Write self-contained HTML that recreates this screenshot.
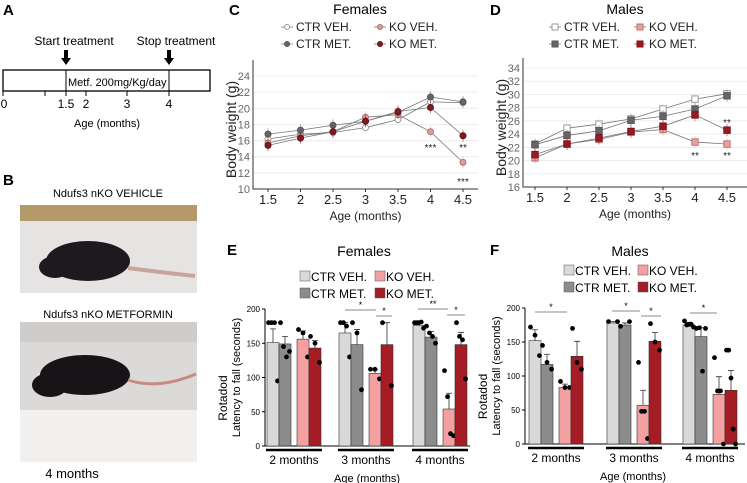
<!DOCTYPE html>
<html><head><meta charset="utf-8"><style>
body{margin:0;background:#fff}
svg{display:block;font-family:"Liberation Sans",Arial,sans-serif}
</style></head><body>
<svg id="fig" width="747" height="483" viewBox="0 0 747 483" xmlns="http://www.w3.org/2000/svg">
<g>
<text x="3" y="15" font-size="15" font-weight="bold">A</text>
<text x="74" y="45" font-size="12" text-anchor="middle">Start treatment</text>
<text x="176" y="45" font-size="12" text-anchor="middle">Stop treatment</text>
<path d="M64 50h4v8h3l-5 7l-5-7h3z" fill="#000"/>
<path d="M167 50h4v8h3l-5 7l-5-7h3z" fill="#000"/>
<rect x="3" y="70" width="207" height="21" fill="none" stroke="#000" stroke-width="1.3"/>
<line x1="66" y1="70" x2="66" y2="91" stroke="#000"/>
<line x1="169" y1="70" x2="169" y2="91" stroke="#000"/>
<text x="68" y="86" font-size="11">Metf. 200mg/Kg/day</text>
<g stroke="#000">
<line x1="3" y1="91" x2="3" y2="96"/><line x1="45" y1="91" x2="45" y2="96"/><line x1="66" y1="91" x2="66" y2="96"/><line x1="86" y1="91" x2="86" y2="96"/><line x1="127" y1="91" x2="127" y2="96"/><line x1="169" y1="91" x2="169" y2="96"/>
</g>
<g font-size="12" text-anchor="middle">
<text x="4" y="108">0</text><text x="66" y="108">1.5</text><text x="86" y="108">2</text><text x="127" y="108">3</text><text x="169" y="108">4</text>
</g>
<text x="107" y="127" font-size="11" text-anchor="middle">Age (months)</text>
</g>
<g>
<text x="3" y="185" font-size="15" font-weight="bold">B</text>
<text x="108" y="197" font-size="11" text-anchor="middle">Ndufs3 nKO VEHICLE</text>
<g>
<rect x="20" y="205" width="177" height="88" fill="#e6e4e2"/>
<rect x="20" y="205" width="177" height="16" fill="#b49a6a"/>
<ellipse cx="88" cy="261" rx="42" ry="20" fill="#1c1a1e"/>
<ellipse cx="55" cy="267" rx="16" ry="11" fill="#1c1a1e"/>
<path d="M128 268q30 4 67 8" stroke="#c9a39c" stroke-width="4" fill="none"/>
</g>
<text x="108" y="318" font-size="11" text-anchor="middle">Ndufs3 nKO METFORMIN</text>
<g>
<rect x="20" y="322" width="177" height="140" fill="#dcdad8"/>
<rect x="20" y="322" width="177" height="20" fill="#cfcdcb"/>
<ellipse cx="85" cy="375" rx="45" ry="20" fill="#161417"/>
<ellipse cx="50" cy="385" rx="18" ry="12" fill="#161417"/>
<path d="M128 380q30 10 68 -6" stroke="#c78b82" stroke-width="3" fill="none"/>
<rect x="20" y="410" width="177" height="52" fill="#f2f0ef"/>
</g>
<text x="72" y="478" font-size="13" text-anchor="middle">4 months</text>
</g>
<text x="229" y="15" font-size="15" font-weight="bold">C</text>
<text x="360" y="14" font-size="14" text-anchor="middle">Females</text>
<text x="490" y="15" font-size="15" font-weight="bold">D</text>
<text x="625" y="14" font-size="14" text-anchor="middle">Males</text>
<text x="227" y="255" font-size="15" font-weight="bold">E</text>
<text x="364" y="256" font-size="14" text-anchor="middle">Females</text>
<text x="490" y="255" font-size="15" font-weight="bold">F</text>
<text x="630" y="256" font-size="14" text-anchor="middle">Males</text>
</svg>
<script>
const ages=[1.5,2,2.5,3,3.5,4,4.5];
const femCtrVeh=[16.2,16.8,17.0,17.6,18.6,20.8,20.7];
const femCtrMet=[16.8,17.3,17.9,18.4,19.5,21.4,20.8];
const femKoVeh=[15.7,16.6,17.1,18.9,19.2,17.1,13.3];
const femKoMet=[15.4,16.3,17.1,18.4,19.6,20.1,16.6];
const maleCtrVeh=[22.5,24.9,25.5,26.3,27.8,29.3,30.1];
const maleCtrMet=[22.4,23.8,24.5,26.1,26.7,27.8,29.8];
const maleKoVeh=[20.4,22.5,23.2,24.3,24.7,22.8,22.5];
const maleKoMet=[20.9,22.5,23.4,24.4,25.2,26.9,24.6];
const femTicks=[10,12,14,16,18,20,22,24];
const maleTicks=[16,18,20,22,24,26,28,30,32,34];
const groups=["2 months","3 months","4 months"];
const femMeans=[[151,149,156,143],[165,148,106,148],[176,159,54,148]];
const femErr=[[20,11,12,11],[15,22,6,32],[3,8,23,18]];
const femDots=[[[180,180,180,95],[180,145,130,138],[170,165,130],[160,150,122]],
 [[180,180,175,130],[180,165,82],[112,112,98],[180,88]],
 [[180,180,180,181,172],[175,165,160,150],[110,72,18,15],[180,160,155,98]]];
const maleMeans=[[152,117,83,129],[178,175,57,151],[175,158,73,79]];
const maleErr=[[16,15,5,22],[2,3,22,13],[4,13,26,29]];
const maleDots=[[[172,160,130],[145,120,110],[92,83,83],[170,120,110]],
 [[180,180],[173,180],[120,48,48,8],[177,150,138]],
 [[181,175,176,176,172],[170,171,107,170],[127,78,78,0],[138,138,97,22,0]]];
const barTicks=[0,50,100,150,200];

const svg=document.getElementById('fig');
const NS='http://www.w3.org/2000/svg';
function mk(tag,attrs,parent){const e=document.createElementNS(NS,tag);for(const k in attrs)e.setAttribute(k,attrs[k]);(parent||svg).appendChild(e);return e;}
function txt(x,y,s,size,anchor,parent,fill){const t=mk('text',{x:x,y:y,'font-size':size,'text-anchor':anchor||'start',fill:fill||'#222'},parent);t.textContent=s;return t;}

function lineChart(cfg){
  const g=mk('g',{});
  
  
  const x=a=>cfg.x0+(a-1.5)*cfg.dx;
  const y=v=>cfg.yb-(v-cfg.vmin)*cfg.py;
  cfg.ticks.forEach(t=>{
    const gl=mk('line',{x1:cfg.left,x2:cfg.right,y1:y(t),y2:y(t),stroke:'#ececec'},g);
    
    
    const tl=txt(cfg.left-3,y(t)+4,String(t),11,'end',g,'#666');
    
    
  });
  const ax=mk('path',{d:`M${cfg.left} ${cfg.top}V${cfg.yb}H${cfg.right}`,fill:'none',stroke:'#333'},g);
  
  
  ages.forEach(a=>{
    const tk=mk('line',{x1:x(a),x2:x(a),y1:cfg.yb,y2:cfg.yb+3,stroke:'#333'},g);
    
    
    const tl=txt(x(a),cfg.yb+15,String(a),13,'middle',g);
    
    
  });
  const xt=txt((cfg.left+cfg.right)/2,cfg.yb+31,'Age (months)',12,'middle',g);
  
  
  const yt=txt(0,0,'Body weight (g)',14,'middle',g);
  yt.setAttribute('transform',`translate(${cfg.left-17},${(cfg.top+cfg.yb)/2+5}) rotate(-90)`);
  
  
  cfg.series.forEach((s,i)=>{
    const pts=s.vals.map((v,j)=>x(ages[j])+','+y(v)).join(' ');
    const pl=mk('polyline',{points:pts,fill:'none',stroke:'#777','stroke-width':0.8},g);
    
    
    s.vals.forEach((v,j)=>{
      const eb=mk('line',{x1:x(ages[j]),x2:x(ages[j]),y1:y(v)-6,y2:y(v)+6,stroke:s.col,'stroke-width':0.8,opacity:0.6},g);
      
      
      let m;
      if(cfg.square) m=mk('rect',{x:x(ages[j])-3.2,y:y(v)-3.2,width:6.4,height:6.4,fill:s.open?'#fff':s.col,stroke:s.stroke},g);
      else m=mk('circle',{cx:x(ages[j]),cy:y(v),r:3,fill:s.open?'#fff':s.col,stroke:s.stroke},g);
      
      
    });
    const lx=cfg.legX[i%2], ly=cfg.legY[Math.floor(i/2)];
    const ll=mk('line',{x1:lx-6,x2:lx+6,y1:ly-4,y2:ly-4,stroke:'#999'},g);
    
    
    let lm;
    if(cfg.square) lm=mk('rect',{x:lx-3,y:ly-7,width:6,height:6,fill:s.open?'#fff':s.col,stroke:s.stroke},g);
    else lm=mk('circle',{cx:lx,cy:ly-4,r:2.5,fill:s.open?'#fff':s.col,stroke:s.stroke},g);
    
    
    const lt=txt(lx+9,ly,s.label,12,'start',g);
    
    
  });
  cfg.stars.forEach(st=>{
    const s=txt(x(st[0]),st[1],st[2],10,'middle',g);
    
    
  });
}
lineChart({name:'females-weight-chart',x0:268,dx:65,yb:189,vmin:10,py:8.07,left:253,right:478,top:60,ticks:femTicks,square:false,
  legX:[287,380],legY:[31,48],
  series:[{key:'ctr-veh',label:'CTR VEH.',vals:femCtrVeh,col:'#ddd',stroke:'#999',open:true},
          {key:'ko-veh',label:'KO VEH.',vals:femKoVeh,col:'#d9a0a0',stroke:'#b07070'},
          {key:'ctr-met',label:'CTR MET.',vals:femCtrMet,col:'#666',stroke:'#555'},
          {key:'ko-met',label:'KO MET.',vals:femKoMet,col:'#7a1c22',stroke:'#6a1018'}],
  stars:[[4,151,'***'],[4.5,151,'**'],[4.5,185,'***']]});
lineChart({name:'males-weight-chart',x0:535,dx:64,yb:187,vmin:16,py:6.61,left:523,right:747,top:58,ticks:maleTicks,square:true,
  legX:[555,640],legY:[31,48],
  series:[{key:'ctr-veh',label:'CTR VEH.',vals:maleCtrVeh,col:'#ddd',stroke:'#999',open:true},
          {key:'ko-veh',label:'KO VEH.',vals:maleKoVeh,col:'#eaa0a0',stroke:'#c07070'},
          {key:'ctr-met',label:'CTR MET.',vals:maleCtrMet,col:'#666',stroke:'#555'},
          {key:'ko-met',label:'KO MET.',vals:maleKoMet,col:'#9a1a24',stroke:'#7a1018'}],
  stars:[[4,159,'**'],[4.5,159,'**'],[4.5,126,'**']]});

const barCols=['#d9d9d9','#8c8c8c','#f4a0a0','#a51c24'];
const barLabels=['CTR VEH.','KO VEH.','CTR MET.','KO MET.'];
const legOrder=[0,2,1,3];
function barChart(cfg){
  const g=mk('g',{});
  
  
  const y=v=>cfg.yb-v*cfg.py;
  const offs=[0,12,30,42];
  barTicks.forEach(t=>{
    const tk=mk('line',{x1:cfg.left-3,x2:cfg.left,y1:y(t),y2:y(t),stroke:'#000'},g);
    
    
    const tl=txt(cfg.left-5,y(t)+3,String(t),8,'end',g,'#000');
    
    
  });
  const ax=mk('line',{x1:cfg.left,x2:cfg.left,y1:y(200),y2:cfg.yb,stroke:'#000'},g);
  
  
  const ba=mk('line',{x1:cfg.left,x2:cfg.right,y1:cfg.yb,y2:cfg.yb,stroke:'#000'},g);
  
  
  cfg.means.forEach((grp,gi)=>{
    const gx=cfg.gx[gi];
    grp.forEach((v,bi)=>{
      const bx=gx+offs[bi];
      const r=mk('rect',{x:bx,y:y(v),width:12,height:cfg.yb-y(v),fill:barCols[bi],stroke:'#333','stroke-width':0.6},g);
      
      
      const e=cfg.err[gi][bi];
      const ep=mk('path',{d:`M${bx+6} ${y(v)}V${y(v+e)}M${bx+3} ${y(v+e)}H${bx+9}`,stroke:'#333','stroke-width':0.8,fill:'none'},g);
      
      
      const ds=cfg.dots[gi][bi];
      ds.forEach((d,di)=>{
        const dx=bx+6+(ds.length>1?(di/(ds.length-1)-0.5)*9:0);
        const c=mk('circle',{cx:dx,cy:y(d),r:2.4,fill:'#000'},g);
        
        
      });
    });
    const ul=mk('line',{x1:gx-1,x2:gx+55,y1:cfg.yb+4,y2:cfg.yb+4,stroke:'#000','stroke-width':2.5},g);
    
    
    const gl=txt(gx+27,cfg.yb+18,groups[gi],12,'middle',g,'#000');
    
    
  });
  const xt=txt((cfg.gx[0]+cfg.gx[2]+54)/2,cfg.yb+36,'Age (months)',11,'middle',g,'#000');
  
  
  const y1=txt(0,0,'Rotadod',12,'middle',g,'#000');
  y1.setAttribute('transform',`translate(${cfg.left-38},${y(70)}) rotate(-90)`);
  
  
  const y2=txt(0,0,'Latency to fall (seconds)',11,'middle',g,'#000');
  y2.setAttribute('transform',`translate(${cfg.left-25},${y(100)}) rotate(-90)`);
  
  
  legOrder.forEach((bi,k)=>{
    const lx=cfg.legX[k%2], ly=cfg.legY[Math.floor(k/2)];
    const sq=mk('rect',{x:lx,y:ly-10,width:10,height:10,fill:barCols[bi],stroke:'#555','stroke-width':0.5},g);
    
    
    const lt=txt(lx+11,ly,barLabels[k],12,'start',g,'#000');
    
    
  });
  cfg.sig.forEach(s=>{
    const l=mk('line',{x1:s[0],x2:s[1],y1:s[2],y2:s[2],stroke:'#888'},g);
    
    
    const t=txt((s[0]+s[1])/2,s[2]-2,s[3],9,'middle',g,'#000');
    
    
  });
}
barChart({name:'females-rotarod-chart',yb:446,py:0.685,left:265,right:470,gx:[267,339,413],means:femMeans,err:femErr,dots:femDots,
  legX:[300,375],legY:[281,298],
  sig:[[345,376,310,'*'],[376,392,316,'*'],[418,448,309,'**'],[447,465,315,'*']]});
barChart({name:'males-rotarod-chart',yb:444,py:0.68,left:525,right:745,gx:[529,607,683],means:maleMeans,err:maleErr,dots:maleDots,
  legX:[564,638],legY:[275,292],
  sig:[[535,567,312,'*'],[612,640,311,'*'],[641,661,316,'*'],[690,717,313,'*']]});
</script>
</body></html>
